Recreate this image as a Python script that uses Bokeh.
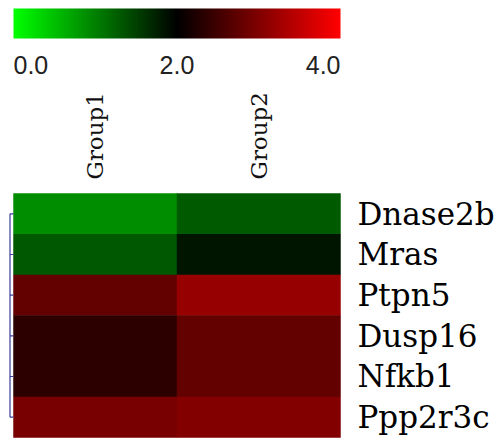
import numpy as np
from bokeh.plotting import figure
from bokeh.models import Range1d, LinearColorMapper, ColumnDataSource, LabelSet
from bokeh.layouts import column
from bokeh.core.properties import value
from bokeh.embed import file_html
from bokeh.resources import INLINE

# ---- data ----
genes = ["Dnase2b", "Mras", "Ptpn5", "Dusp16", "Nfkb1", "Ppp2r3c"]
groups = ["Group1", "Group2"]
group1_vals = [0.90, 1.31, 2.78, 2.35, 2.35, 2.94]
group2_vals = [1.29, 1.84, 3.18, 2.78, 2.78, 3.02]
scale_ticks = [0.0, 2.0, 4.0]
scale_labels = ["0.0", "2.0", "4.0"]
vmin, vmax = 0.0, 4.0

# green -> black -> red palette
palette = []
for i in range(256):
    t = i / 255.0
    if t < 0.5:
        g = int(round(255 * (1 - t / 0.5)))
        palette.append("#%02x%02x%02x" % (0, g, 0))
    else:
        r = int(round(255 * ((t - 0.5) / 0.5)))
        palette.append("#%02x%02x%02x" % (r, 0, 0))
mapper = LinearColorMapper(palette=palette, low=vmin, high=vmax)

W = 503
SERIF = value("DejaVu Serif")

# ---- colour scale strip (frame covers the whole figure) ----
sx1, sy1 = 327 / (vmax - vmin), 30.0
p1 = figure(width=W, height=90, output_backend="svg", toolbar_location=None,
            x_range=Range1d(vmin - 13 / sx1, vmax + 163 / sx1),
            y_range=Range1d(-52 / sy1, 1 + 8 / sy1), min_border=0)
p1.axis.visible = False
p1.grid.visible = False
p1.outline_line_color = None
strip = np.linspace(vmin, vmax, 512)[None, :]
p1.image(image=[strip], x=vmin, y=0, dw=vmax - vmin, dh=1, color_mapper=mapper)
p1.text(x=scale_ticks, y=[-0.58] * 3, text=scale_labels,
        text_align=["left", "center", "right"], text_baseline="top",
        text_font=value("Liberation Sans"), text_font_size="25px", text_color="#222222")

# ---- heatmap ----
xs, ys, vals = [], [], []
for r, g in enumerate(genes):
    xs += [0.5, 1.5]
    ys += [r + 0.5, r + 0.5]
    vals += [group1_vals[r], group2_vals[r]]
src = ColumnDataSource(dict(x=xs, y=ys, v=vals))

ncol, nrow = len(groups), len(genes)
px_x, px_y = 163.5, 40.67
p2 = figure(width=W, height=354, output_backend="svg", toolbar_location=None,
            x_range=Range1d(-13 / px_x, ncol + 163 / px_x),
            y_range=Range1d(nrow + 7 / px_y, -103 / px_y),
            min_border=0)
p2.axis.visible = False
p2.grid.visible = False
p2.outline_line_color = None
p2.rect(x="x", y="y", width=1.003, height=1.01, source=src,
        fill_color={"field": "v", "transform": mapper}, line_color=None)

# dendrogram-like bracket on the left
centers = [i + 0.5 for i in range(nrow)]
bx = -3.5 / px_x
p2.segment(x0=[bx], y0=[centers[0]], x1=[bx], y1=[centers[-1]],
           line_color="#3b3b9a", line_width=1.2)
p2.segment(x0=[bx] * nrow, y0=centers, x1=[0] * nrow, y1=centers,
           line_color="#3b3b9a", line_width=1.2)

# column labels (rotated, as an annotation so they are not clipped)
gsrc = ColumnDataSource(dict(x=[i + 0.5 for i in range(ncol)],
                             y=[-14 / px_y] * ncol, t=groups))
p2.add_layout(LabelSet(x="x", y="y", text="t", source=gsrc, angle=np.pi / 2,
                       text_align="left", text_baseline="middle",
                       text_font=SERIF, text_font_size="23px", text_color="#111111"))

# row labels
p2.text(x=[ncol + 17 / px_x] * nrow, y=centers, text=genes,
        text_align="left", text_baseline="middle",
        text_font=SERIF, text_font_size="31px", text_color="#000000")

layout = column(p1, p2, spacing=0)
open("out.html", "w").write(file_html(layout, INLINE))
